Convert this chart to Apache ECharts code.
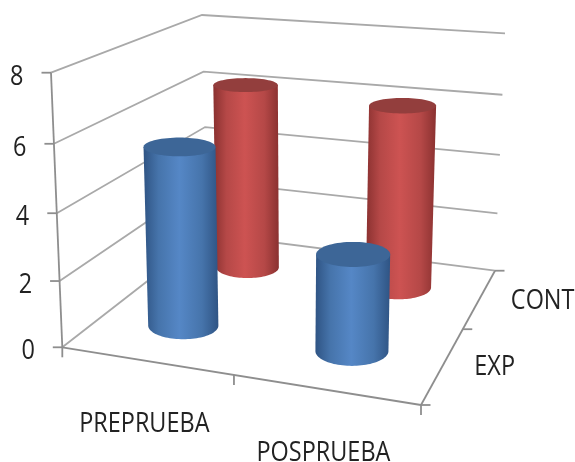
<!DOCTYPE html>
<html>
<head>
<meta charset="utf-8">
<style>html,body{margin:0;padding:0;background:#fff}#chart{width:575px;height:462px}</style>
<script src="https://cdn.jsdelivr.net/npm/echarts@6/dist/echarts.min.js"></script>
</head>
<body>
<div id="chart"></div>
<script>
// Chart data
const categories = ['PREPRUEBA', 'POSPRUEBA'];
const depthLabels = ['EXP', 'CONT'];
const yTicks = [0, 2, 4, 6, 8];
const expValues = [5.5, 2.9];
const contValues = [6.25, 6.0];

// Screen corners of the 3D box: floor and ceiling, in order
// front-left, front-right, back-right, back-left.
const floorQuad = [[62.3, 347.3], [421, 405], [495, 270.7], [208, 234]];
const ceilQuad = [[51, 72.7], [430, 107.5], [505, 33.3], [202, 15]];

// Projective map from the unit square onto a quadrilateral.
function squareToQuad(q) {
  const [[x0, y0], [x1, y1], [x2, y2], [x3, y3]] = q;
  const dx3 = x0 - x1 + x2 - x3, dy3 = y0 - y1 + y2 - y3;
  const dx1 = x1 - x2, dx2 = x3 - x2, dy1 = y1 - y2, dy2 = y3 - y2;
  const det = dx1 * dy2 - dx2 * dy1;
  const g = (dx3 * dy2 - dx2 * dy3) / det;
  const h = (dx1 * dy3 - dx3 * dy1) / det;
  const a = x1 - x0 + g * x1, b = x3 - x0 + h * x3;
  const d = y1 - y0 + g * y1, e = y3 - y0 + h * y3;
  return (u, w) => {
    const t = g * u + h * w + 1;
    return [(a * u + b * w + x0) / t, (d * u + e * w + y0) / t];
  };
}
const floorAt = squareToQuad(floorQuad);
const ceilAt = squareToQuad(ceilQuad);
const HEIGHT_PERSPECTIVE = 0.048;

// u: along the categories, w: into the depth, v: up the value axis (all 0..1).
function project(u, w, v) {
  const a = floorAt(u, w), b = ceilAt(u, w);
  const t = v / (1 + HEIGHT_PERSPECTIVE * (1 - v));
  return [a[0] + (b[0] - a[0]) * t, a[1] + (b[1] - a[1]) * t];
}

// Axis scales reach the projection as fractions of the hidden grid.
function fractions(params, api, cat, val) {
  const r = params.coordSys;
  const p = api.coord([cat, val]);
  return [(p[0] - r.x) / r.width, (r.y + r.height - p[1]) / r.height];
}

const GRID = '#a9a9a9', AXIS = '#8e8e8e', TEXT = '#222222';
const FONT = '26.5px "Open Sans", sans-serif';
const TEXT_SQUEEZE = 0.885;
const LINE = 1.8;

function seg(a, b, color) {
  return {
    type: 'polyline', shape: { points: [a, b] },
    style: { stroke: color, lineWidth: LINE, fill: null }
  };
}
function label(text, x, y, align) {
  return {
    type: 'text', x, y, scaleX: TEXT_SQUEEZE,
    style: { text, x: 0, y: 0, font: FONT, fill: TEXT, align, verticalAlign: 'middle' }
  };
}

// Wall gridlines, value axis, ticks and value labels.
function renderValueTick(params, api) {
  const v = fractions(params, api, 0, api.value(0))[1];
  const front = project(0, 0, v), backL = project(0, 1, v), backR = project(1, 1, v);
  return {
    type: 'group',
    children: [
      { type: 'polyline', shape: { points: [front, backL, backR] },
        style: { stroke: GRID, lineWidth: LINE, fill: null } },
      seg(front, [front[0] - 9.5, front[1]], AXIS),
      label(String(api.value(0)), front[0] - 27.5, front[1] + 4.5, 'right')
    ]
  };
}

// Floor edges and the two axes that run along it.
function renderFloor(params, api) {
  const n = categories.length, kids = [
    seg(project(0, 0, 0), project(0, 0, 1), AXIS),
    seg(project(0, 0, 0), project(1, 0, 0), AXIS),
    seg(project(1, 0, 0), project(1, 1, 0), AXIS)
  ];
  for (let i = 0; i <= n; i++) {
    const p = project(i / n, 0, 0);
    kids.push(seg(p, [p[0], p[1] + 10], AXIS));
  }
  for (let i = 0; i <= depthLabels.length; i++) {
    const p = project(1, i / depthLabels.length, 0);
    kids.push(seg(p, [p[0] + 9.5, p[1]], AXIS));
  }
  return { type: 'group', children: kids };
}

function renderCategoryLabel(params, api) {
  const i = api.value(0);
  const u = fractions(params, api, i, 0)[0];
  const p = project(u, 0, 0);
  return label(categories[i], p[0] - 2, p[1] + 63.5, 'center');
}

function renderDepthLabel(params, api) {
  const i = api.value(0);
  const p = project(1, (i + 0.5) / depthLabels.length, 0);
  return label(depthLabels[i], p[0] + 31, p[1] + 3, 'left');
}

// Horizontal ellipse for a cylinder section. Its width follows the local
// perspective scale and it flattens towards the top of the view.
function section(u, w, v) {
  const c = project(u, w, v);
  const h = Math.hypot(...[0, 1].map(k => ceilAt(u, w)[k] - floorAt(u, w)[k]));
  const rx = h * (0.133 + 0.005 * v);
  const drift = 1.8 - 3.7 * v;
  return { cx: c[0] - drift, cy: c[1], rx, ry: rx * (0.155 + 0.00072 * c[1]) };
}
function arc(s, from, to, steps) {
  const pts = [];
  for (let i = 0; i <= steps; i++) {
    const a = from + (to - from) * i / steps;
    pts.push([s.cx + s.rx * Math.cos(a), s.cy + s.ry * Math.sin(a)]);
  }
  return pts;
}

function cylinderRenderer(depthIndex, palette) {
  return function (params, api) {
    const [u, v] = fractions(params, api, api.value(0), api.value(1));
    const w = (depthIndex + 0.5) / depthLabels.length;
    const base = section(u, w, 0), top = section(u, w, v);
    const body = [[top.cx - top.rx, top.cy], [top.cx + top.rx, top.cy]]
      .concat(arc(base, 0, Math.PI, 48));
    return {
      type: 'group',
      children: [
        { type: 'polygon', shape: { points: body },
          style: { fill: {
            type: 'linear', x: 0, y: 0, x2: 1, y2: 0,
            colorStops: [
              { offset: 0, color: palette.edge },
              { offset: 0.2, color: palette.mid },
              { offset: 0.48, color: palette.light },
              { offset: 0.78, color: palette.mid },
              { offset: 1, color: palette.edge }
            ]
          } } },
        { type: 'polygon', shape: { points: arc(top, 0, Math.PI * 2, 72) },
          style: { fill: palette.top } }
      ]
    };
  };
}

const BLUE = { edge: '#2f5484', mid: '#4674ab', light: '#5587c6', top: '#3d6697' };
const RED = { edge: '#8a3130', mid: '#b54847', light: '#cd5352', top: '#933e3d' };

const hidden = { show: false };
const chart = echarts.init(document.getElementById('chart'), null, { renderer: 'canvas' });
chart.setOption({
  animation: false,
  backgroundColor: '#ffffff',
  grid: { left: 0, right: 0, top: 0, bottom: 0 },
  xAxis: { type: 'category', data: categories, ...hidden },
  yAxis: { type: 'value', min: 0, max: 8, interval: 2, ...hidden },
  series: [
    { type: 'custom', name: 'walls', clip: false, silent: true, z: 1,
      data: yTicks.map(t => [t]), encode: { x: -1, y: -1 }, renderItem: renderValueTick },
    { type: 'custom', name: 'floor', clip: false, silent: true, z: 1,
      data: [[0]], encode: { x: -1, y: -1 }, renderItem: renderFloor },
    { type: 'custom', name: 'categoryLabels', clip: false, silent: true, z: 5,
      data: categories.map((c, i) => [i]), encode: { x: -1, y: -1 }, renderItem: renderCategoryLabel },
    { type: 'custom', name: 'depthLabels', clip: false, silent: true, z: 5,
      data: depthLabels.map((c, i) => [i]), encode: { x: -1, y: -1 }, renderItem: renderDepthLabel },
    { type: 'custom', name: 'CONT', clip: false, silent: true, z: 2,
      data: contValues.map((v, i) => [i, v]), encode: { x: 0, y: 1 }, renderItem: cylinderRenderer(1, RED) },
    { type: 'custom', name: 'EXP', clip: false, silent: true, z: 3,
      data: expValues.map((v, i) => [i, v]), encode: { x: 0, y: 1 }, renderItem: cylinderRenderer(0, BLUE) }
  ]
});
</script>
</body>
</html>
